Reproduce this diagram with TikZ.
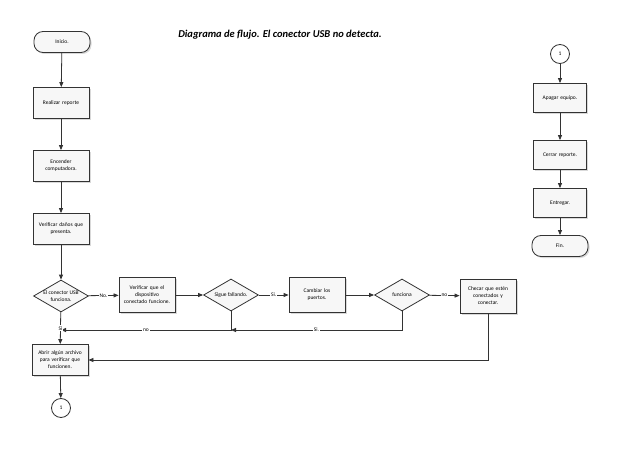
\documentclass[tikz,border=0pt]{standalone}
\usepackage{fontspec}
\setmainfont{Carlito}
\usetikzlibrary{shapes.geometric,arrows.meta,shadows}
\begin{document}
\begin{tikzpicture}[x=1pt,y=-1pt,
  box/.style={draw=black!80,fill=gray!6,line width=0.8pt,minimum width=56pt,minimum height=31pt,align=center,font=\fontsize{5.5}{7}\selectfont,inner sep=1pt,text width=54pt,drop shadow={opacity=0.3,shadow xshift=1.5pt,shadow yshift=-1.5pt}},
  term/.style={box,rounded corners=9pt,minimum height=21pt},
  dec/.style={diamond,aspect=1.8,draw=black!80,fill=gray!6,line width=0.8pt,minimum width=55pt,minimum height=32pt,inner sep=0pt,align=center,font=\fontsize{5.5}{7}\selectfont},
  conn/.style={circle,draw=black!80,fill=white,line width=0.8pt,minimum size=19pt,inner sep=0pt,font=\fontsize{5.5}{7}\selectfont},
  arr/.style={draw=black!80,line width=0.8pt,-{Triangle[length=5pt,width=4pt]}},
  lbl/.style={fill=white,inner sep=1pt,font=\fontsize{5.5}{7}\selectfont}]
\useasboundingbox (0,0) rectangle (638,452);
\node[font=\bfseries\itshape\fontsize{10.5}{12}\selectfont] (title) at (280,35) {Diagrama de flujo. El conector USB no detecta.};
\node[term] (ini) at (62,42) {Inicio.};
\node[box] (rep) at (61,103) {Realizar reporte};
\node[box] (enc) at (61,166) {Encender\\computadora.};
\node[box] (ver) at (61,229) {Verificar daños que\\presenta.};
\node[dec] (usb) at (61,296) {El conector USB\\funciona.};
\node[box,minimum height=35pt] (disp) at (147,295) {Verificar que el\\dispositivo\\conectado funcione.};
\node[dec] (sig) at (231,295) {Sigue fallando.};
\node[box,minimum height=35pt] (cam) at (317,295) {Cambiar los\\puertos.};
\node[dec] (fun) at (402,295) {funciona};
\node[box,minimum height=34pt] (che) at (488,296) {Checar que estén\\conectados y\\conectar.};
\node[box] (abr) at (60,360) {Abrir algún archivo\\para verificar que\\funcionen.};
\node[conn] (c1) at (61,408) {1};
\node[conn] (c2) at (560,54) {1};
\node[box,minimum width=53pt,text width=51pt,minimum height=29pt] (apa) at (560,98) {Apagar equipo.};
\node[box,minimum width=53pt,text width=51pt,minimum height=29pt] (cer) at (560,155) {Cerrar reporte.};
\node[box,minimum width=53pt,text width=51pt,minimum height=29pt] (ent) at (560,203) {Entregar.};
\node[term] (fin) at (560,246) {Fin.};
\draw[arr] (ini) -- (rep);
\draw[arr] (rep) -- (enc);
\draw[arr] (enc) -- (ver);
\draw[arr] (ver) -- (usb);
\draw[arr] (usb) -- node[lbl]{No.} (disp);
\draw[arr] (disp) -- (sig);
\draw[arr] (sig) -- node[lbl]{Si.} (cam);
\draw[arr] (cam) -- (fun);
\draw[arr] (fun) -- node[lbl]{no} (che);
\coordinate (j1) at (61,330);
\coordinate (j2) at (231,330);
\draw[arr] (sig.south) |- node[lbl,pos=0.75]{no} (j1);
\draw[arr] (fun.south) |- node[lbl,pos=0.75]{Si.} (j2);
\draw[arr] (usb) -- node[lbl,pos=0.5]{Si} (abr);
\draw[arr] (che.south) |- (abr.east);
\draw[arr] (abr) -- (c1);
\draw[arr] (c2) -- (apa);
\draw[arr] (apa) -- (cer);
\draw[arr] (cer) -- (ent);
\draw[arr] (ent) -- (fin);
\end{tikzpicture}
\end{document}
